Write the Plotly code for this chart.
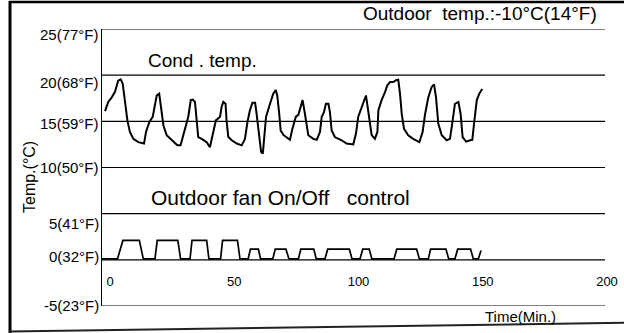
import plotly.graph_objects as go

# ---- data -----------------------------------------------------------------
# Condenser temperature (°C) versus time (min)
COND_T = [-2.0, -0.7, 0.7, 2.0, 3.3, 4.3, 5.1, 6.0, 7.0, 8.0, 9.4, 11.4, 13.7,
          14.5, 15.8, 17.2, 18.1, 18.8, 19.8, 20.5, 21.5, 22.8, 24.8, 27.1,
          28.4, 30.2, 31.5, 32.5, 33.3, 34.2, 34.9, 35.5, 36.9, 38.9, 40.2,
          41.3, 42.6, 44.3, 44.9, 45.6, 46.5, 46.9, 47.6, 49.0, 51.0, 53.0,
          54.3, 55.3, 56.3, 57.3, 58.4, 59.0, 60.1, 60.8, 61.5, 62.0, 62.8,
          64.4, 65.7, 66.7, 67.3, 68.1, 68.7, 69.9, 72.4, 73.4, 74.8, 75.8,
          76.7, 77.5, 78.2, 78.9, 79.8, 81.8, 83.2, 84.5, 85.2, 86.1, 86.9,
          87.9, 88.5, 89.2, 90.5, 93.2, 95.2, 97.9, 99.0, 99.9, 100.6, 101.9,
          103.0, 103.5, 104.3, 105.3, 106.6, 107.6, 108.0, 109.3, 110.7, 111.6,
          112.7, 114.0, 115.1, 116.0, 116.7, 117.4, 118.3, 120.0, 122.0, 124.5,
          125.8, 126.8, 128.1, 129.4, 130.4, 131.2, 132.1, 133.5, 135.5, 136.8,
          137.9, 138.8, 140.2, 141.1, 141.9, 143.3, 144.9, 145.8, 146.5, 147.6,
          148.6, 149.8]
COND_V = [16.1, 17.1, 17.6, 18.2, 19.4, 19.55, 19.1, 16.9, 15.1, 13.85, 13.1,
          12.75, 12.6, 13.85, 14.9, 15.5, 16.9, 17.8, 18.0, 16.55, 14.55, 13.5,
          12.95, 12.4, 12.4, 14.4, 15.5, 17.3, 17.35, 17.1, 15.3, 13.3, 13.1,
          12.75, 12.2, 13.5, 15.1, 15.5, 16.55, 17.1, 16.9, 15.1, 13.3, 12.95,
          12.6, 12.4, 13.1, 14.9, 16.2, 17.0, 17.0, 15.8, 13.1, 11.7, 11.5,
          12.95, 15.5, 16.9, 18.0, 18.4, 17.8, 15.8, 14.0, 13.5, 13.0, 14.2,
          15.5, 15.7, 16.7, 17.3, 16.2, 14.75, 13.5, 13.1, 13.0, 13.85, 15.5,
          16.0, 16.9, 16.9, 16.0, 14.0, 13.3, 12.95, 12.6, 12.5, 13.7, 15.5,
          16.0, 17.1, 17.8, 16.9, 15.1, 13.5, 13.1, 13.85, 16.2, 17.3, 18.2,
          18.9, 19.25, 19.25, 19.45, 19.5, 18.0, 15.8, 14.2, 13.5, 13.1, 12.75,
          13.85, 15.8, 17.6, 18.7, 19.0, 17.6, 14.75, 13.5, 12.95, 13.1, 15.1,
          16.9, 17.1, 15.8, 13.3, 12.8, 12.95, 13.0, 14.75, 17.3, 18.0, 18.5]

# Outdoor fan on/off trace (drawn on the temperature scale)
FAN_T = [-3.2, 3.0, 5.2, 11.8, 13.4, 18.1, 19.0, 27.3, 28.4, 32.2, 33.0, 38.9,
         39.8, 44.5, 45.3, 51.3, 52.3, 55.6, 56.5, 59.7, 60.6, 65.5, 66.5,
         70.8, 72.0, 75.8, 76.8, 82.0, 83.0, 86.5, 87.6, 96.3, 97.4, 100.6,
         101.7, 104.3, 105.4, 114.3, 115.4, 123.4, 124.5, 128.1, 129.0, 135.2,
         136.3, 138.8, 139.9, 145.1, 146.2, 148.2, 149.3]
FAN_V = [0.1, 0.1, 2.1, 2.1, 0.1, 0.1, 2.1, 2.1, 0.1, 0.1, 2.1, 2.1,
         0.1, 0.1, 2.1, 2.1, 0.1, 0.1, 1.15, 1.15, 0.1, 0.1, 1.15,
         1.15, 0.1, 0.1, 1.15, 1.15, 0.1, 0.1, 1.15, 1.15, 0.1, 0.1,
         1.15, 1.15, 0.1, 0.1, 1.15, 1.15, 0.1, 0.1, 1.15, 1.15,
         0.1, 0.1, 1.15, 1.15, 0.1, 0.1, 1.0]

Y_TICKS = [25, 20, 15, 10, 5, 0, -5]
Y_LABELS = ["25(77°F)", "20(68°F)", "15(59°F)", "10(50°F)", "5(41°F)",
            "0(32°F)", "-5(23°F)"]
X_TICKS = [0, 50, 100, 150, 200]
X_LABELS = ["0", "50", "100", "150", "200"]

# ---- layout geometry (pixels) --------------------------------------------
W, H = 624, 333
ML, MR, MT, MB = 102, 6, 29, 27
PW, PH = W - ML - MR, H - MT - MB
FONT = "Liberation Sans, Arial, Helvetica, sans-serif"

X_ZERO_PX = 110                      # where t = 0 sits
X_SCALE = (607 - X_ZERO_PX) / 200.0  # px per minute
GRID_END_PX = 605                    # right end of the horizontal rules


def px(x):
    return (x - ML) / PW


def py(y):
    return (H - MB - y) / PH


def t_at(pixel):
    return (pixel - X_ZERO_PX) / X_SCALE


# vertical nudges of the y tick labels relative to their rules (px, + = up)
LABEL_SHIFT = [-5, -7, -2, 0, -10, 3, 1]

fig = go.Figure()
fig.add_trace(go.Scatter(x=COND_T, y=COND_V, mode="lines",
                         line=dict(color="black", width=2), hoverinfo="skip",
                         showlegend=False))
fig.add_trace(go.Scatter(x=FAN_T, y=FAN_V, mode="lines",
                         line=dict(color="black", width=1.7), hoverinfo="skip",
                         showlegend=False))

annotations = []
for val, lab, sh in zip(Y_TICKS, Y_LABELS, LABEL_SHIFT):
    annotations.append(dict(x=px(101), xref="paper", y=val, yref="y",
                            text=lab, showarrow=False, xanchor="right",
                            yanchor="middle", yshift=sh,
                            font=dict(size=15, color="black", family=FONT)))

annotations += [
    dict(x=px(599), y=py(14), xref="paper", yref="paper",
         text="Outdoor\u00a0\u00a0temp.:-10°C(14°F)", showarrow=False,
         xanchor="right", yanchor="middle",
         font=dict(size=19, color="black", family=FONT)),
    dict(x=px(146), y=py(60), xref="paper", yref="paper",
         text="Cond\u00a0.\u00a0temp.", showarrow=False,
         xanchor="left", yanchor="middle",
         font=dict(size=19, color="black", family=FONT)),
    dict(x=px(149), y=py(197), xref="paper", yref="paper",
         text="Outdoor fan On/Off\u00a0\u00a0\u00a0control", showarrow=False,
         xanchor="left", yanchor="middle",
         font=dict(size=21, color="black", family=FONT)),
    dict(x=px(520), y=py(316), xref="paper", yref="paper",
         text="Time(Min.)", showarrow=False,
         xanchor="center", yanchor="middle",
         font=dict(size=15, color="black", family=FONT)),
    dict(x=px(29), y=py(177), xref="paper", yref="paper",
         text="Temp.(°C)", showarrow=False, textangle=-90,
         xanchor="center", yanchor="middle",
         font=dict(size=16, color="black", family=FONT)),
]

# horizontal rules at every temperature tick
shapes = [dict(type="line", xref="x", yref="y", x0=t_at(ML), x1=t_at(GRID_END_PX),
               y0=v, y1=v, line=dict(color="black", width=1.2), layer="below")
          for v in Y_TICKS]

# outer frame
shapes += [
    dict(type="line", xref="paper", yref="paper", x0=px(10), x1=px(10),
         y0=py(1), y1=py(333), line=dict(color="black", width=3)),
    dict(type="line", xref="paper", yref="paper", x0=px(9), x1=px(624),
         y0=py(2), y1=py(2), line=dict(color="black", width=2.5)),
    dict(type="line", xref="paper", yref="paper", x0=px(9), x1=px(624),
         y0=py(331.5), y1=py(322.8), line=dict(color="#222", width=2)),
]

fig.update_layout(
    width=W, height=H,
    margin=dict(l=ML, r=MR, t=MT, b=MB, pad=0),
    paper_bgcolor="white", plot_bgcolor="white",
    showlegend=False,
    annotations=annotations,
    shapes=shapes,
    xaxis=dict(range=[t_at(ML), t_at(W - MR)],
               tickvals=X_TICKS, ticktext=X_LABELS,
               anchor="free", position=0.123,
               showgrid=False, zeroline=False, showline=False, ticks="",
               tickfont=dict(size=13, color="black", family=FONT),
               fixedrange=True),
    yaxis=dict(range=[-5, 25], tickvals=Y_TICKS, showticklabels=False,
               showgrid=False, zeroline=False, showline=True,
               linecolor="black", linewidth=1.3, ticks="", fixedrange=True),
)

fig.write_html("out.html")
